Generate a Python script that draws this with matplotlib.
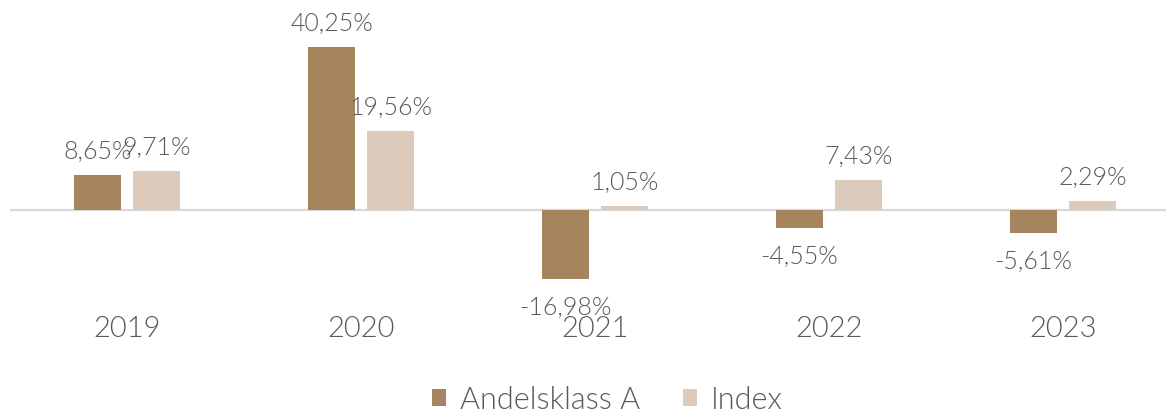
import matplotlib
matplotlib.use("Agg")
import matplotlib.pyplot as plt
from matplotlib.transforms import blended_transform_factory
import numpy as np

years = ["2019", "2020", "2021", "2022", "2023"]
andelsklass_a = [8.65, 40.25, -16.98, -4.55, -5.61]
index_vals = [9.71, 19.56, 1.05, 7.43, 2.29]
series_names = ["Andelsklass A", "Index"]

BROWN = "#A6845E"
BEIGE = "#DCCBBB"
TEXT = "#595959"
WEIGHT = 300

plt.rcParams['font.family'] = ['Lato', 'DejaVu Sans']

W, H = 1166, 415
fig = plt.figure(figsize=(W / 100, H / 100), dpi=100)
# axes in pixels: left 10, right 1166, top 10, bottom 300
ax = fig.add_axes([10 / W, (H - 300) / H, 1156 / W, 290 / H])

x = np.arange(len(years))
bw = 0.197
off = 0.126
b1 = ax.bar(x - off, andelsklass_a, bw, color=BROWN, label=series_names[0], zorder=2)
b2 = ax.bar(x + off, index_vals, bw, color=BEIGE, label=series_names[1], zorder=2)

ax.set_xlim(-0.5, -0.5 + 1156 / 234)
px = 4.05
ax.set_ylim(-90 / px, 200 / px)
ax.axhline(0, color="#D9D9D9", linewidth=1.6, zorder=1)

for s in ax.spines.values():
    s.set_visible(False)
ax.set_yticks([])
ax.set_xticks([])

def fmt(v):
    return f"{v:.2f}%".replace(".", ",")

for bars, vals in [(b1, andelsklass_a), (b2, index_vals)]:
    for rect, v in zip(bars, vals):
        cx = rect.get_x() + rect.get_width() / 2
        if v >= 0:
            ax.annotate(fmt(v), (cx, v), xytext=(0, 8), textcoords="offset points",
                        ha="center", va="bottom", fontsize=18, color=TEXT, fontweight=WEIGHT)
        else:
            ax.annotate(fmt(v), (cx, v), xytext=(0, -12), textcoords="offset points",
                        ha="center", va="top", fontsize=18, color=TEXT, fontweight=WEIGHT)

trans = blended_transform_factory(ax.transData, fig.transFigure)
for i, y in enumerate(years):
    ax.text(i, 1 - 329 / H, y, transform=trans, ha="center", va="center",
            fontsize=21, color=TEXT, fontweight=WEIGHT)

leg = fig.legend(loc="center", bbox_to_anchor=(607 / W, 1 - 400 / H), ncol=2,
                 frameon=False, prop={"size": 22, "weight": WEIGHT},
                 handlelength=0.47, handleheight=0.47,
                 handletextpad=0.45, columnspacing=1.4)
for t in leg.get_texts():
    t.set_color(TEXT)

fig.savefig("out.png", dpi=100)
